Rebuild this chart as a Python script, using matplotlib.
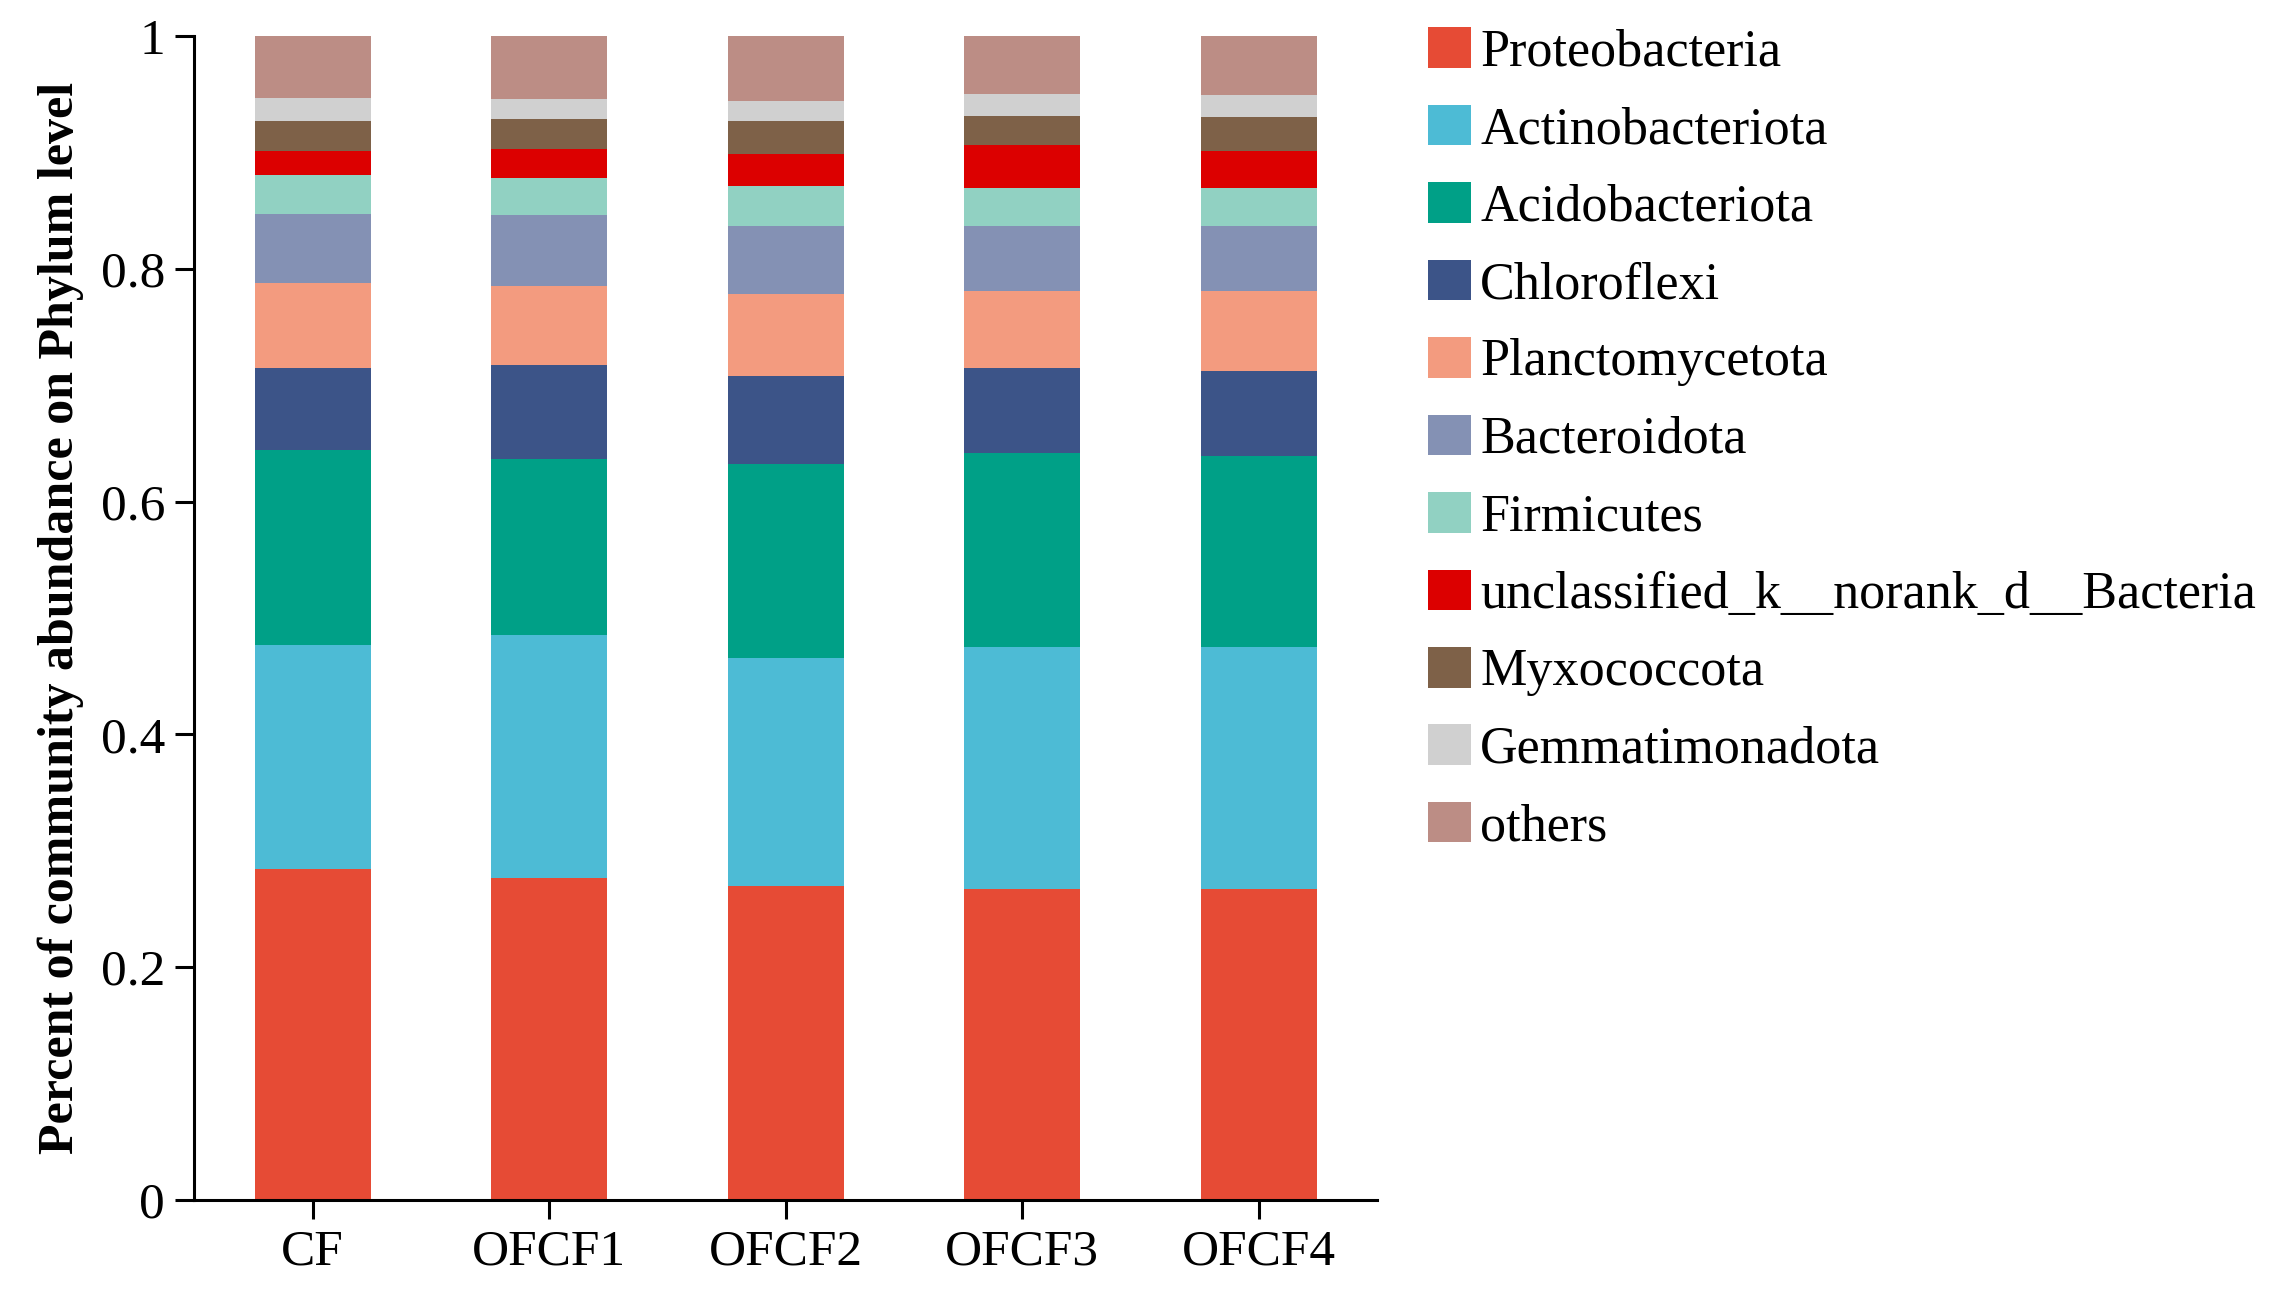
import matplotlib

matplotlib.use("Agg")
import matplotlib.pyplot as plt
import numpy as np

samples = ["CF", "OFCF1", "OFCF2", "OFCF3", "OFCF4"]
taxa = [
    "Proteobacteria",
    "Actinobacteriota",
    "Acidobacteriota",
    "Chloroflexi",
    "Planctomycetota",
    "Bacteroidota",
    "Firmicutes",
    "unclassified_k__norank_d__Bacteria",
    "Myxococcota",
    "Gemmatimonadota",
    "others",
]

# relative abundance per phylum, one value per sample (CF, OFCF1..4)
proteobacteria = [0.284, 0.277, 0.270, 0.267, 0.267]
actinobacteriota = [0.193, 0.208, 0.196, 0.208, 0.208]
acidobacteriota = [0.167, 0.152, 0.166, 0.167, 0.164]
chloroflexi = [0.071, 0.080, 0.076, 0.073, 0.073]
planctomycetota = [0.073, 0.068, 0.070, 0.066, 0.069]
bacteroidota = [0.059, 0.061, 0.059, 0.056, 0.056]
firmicutes = [0.034, 0.032, 0.034, 0.032, 0.032]
unclassified = [0.020, 0.025, 0.028, 0.037, 0.032]
myxococcota = [0.026, 0.026, 0.028, 0.025, 0.029]
gemmatimonadota = [0.020, 0.017, 0.017, 0.019, 0.019]
others = [0.053, 0.054, 0.056, 0.050, 0.051]

colors = [
    "#E64B35",
    "#4DBBD5",
    "#00A087",
    "#3C5488",
    "#F39B7F",
    "#8491B4",
    "#91D1C2",
    "#DC0000",
    "#7E6148",
    "#D0D0D0",
    "#BC8D85",
]

series = [
    proteobacteria, actinobacteriota, acidobacteriota, chloroflexi,
    planctomycetota, bacteroidota, firmicutes, unclassified,
    myxococcota, gemmatimonadota, others,
]

plt.rcParams["font.family"] = ["Liberation Serif", "DejaVu Serif"]

fig = plt.figure(figsize=(22.79, 12.99), dpi=100)
ax = fig.add_axes([0.0853, 0.0762, 0.6042 - 0.0853, 0.9723 - 0.0762])

x = np.arange(len(samples))
bottom = np.zeros(len(samples))
for name, vals, col in zip(taxa, series, colors):
    vals = np.asarray(vals)
    ax.bar(x, vals, width=0.49, bottom=bottom, color=col, label=name, linewidth=0)
    bottom += vals

ax.set_xlim(-0.5, 4.5)
ax.set_ylim(0, 1)
ax.set_xticks(x)
ax.set_xticklabels(samples, fontsize=37)
ax.set_yticks([0, 0.2, 0.4, 0.6, 0.8, 1.0])
ax.set_yticklabels(["0", "0.2", "0.4", "0.6", "0.8", "1"], fontsize=37)
ax.tick_params(axis="both", length=14, width=2.2, direction="out", pad=7)
for side in ["top", "right"]:
    ax.spines[side].set_visible(False)
for side in ["left", "bottom"]:
    ax.spines[side].set_linewidth(2.2)
ax.set_ylabel("Percent of community abundance on Phylum level",
              fontsize=36, fontweight="bold", labelpad=12)

ax.legend(
    loc="upper left",
    bbox_to_anchor=(0.6175, 0.995),
    bbox_transform=fig.transFigure,
    frameon=False,
    fontsize=37.5,
    handlelength=0.82,
    handleheight=0.82,
    handletextpad=0.18,
    labelspacing=0.54,
    borderaxespad=0,
)

fig.savefig("out.png", dpi=100)
plt.close(fig)
